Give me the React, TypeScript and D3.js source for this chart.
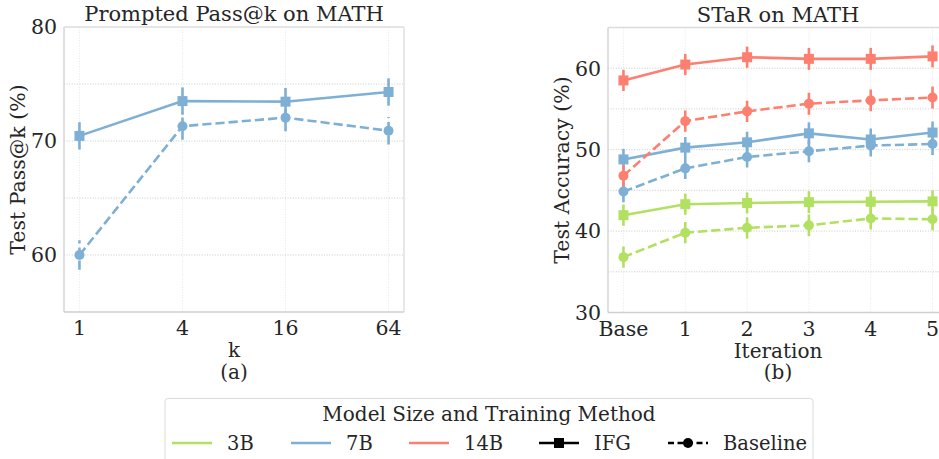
import React from "react";
import * as d3 from "d3";

// ---------- data ----------
const kLabels = ["1", "4", "16", "64"];
const passIFG = [70.45, 73.5, 73.45, 74.3];
const passIFGErr = [1.2, 1.2, 1.2, 1.2];
const passBase = [60.0, 71.3, 72.05, 70.9];
const passBaseErr = [1.3, 1.2, 1.2, 1.2];

const iterLabels = ["Base", "1", "2", "3", "4", "5"];
const star3IFG = [41.95, 43.3, 43.45, 43.55, 43.6, 43.65];
const star3Base = [36.8, 39.8, 40.4, 40.7, 41.55, 41.45];
const star7IFG = [48.8, 50.25, 50.9, 52.0, 51.25, 52.1];
const star7Base = [44.85, 47.7, 49.1, 49.8, 50.5, 50.7];
const star14IFG = [58.5, 60.45, 61.35, 61.15, 61.15, 61.45];
const star14Base = [46.8, 53.5, 54.7, 55.65, 56.05, 56.4];
const starErr = [1.3, 1.3, 1.3, 1.35, 1.35, 1.35];

const modelNames = ["3B", "7B", "14B"];
const modelColors = ["#b2e061", "#7eb0d5", "#fd7f6f"];
const methodNames = ["IFG", "Baseline"];

const FONT = "DejaVu Serif";
const TXT = "#262626";
const DASH = "9.2,4";
const FS = 20;

type Series = { values: number[]; err: number[]; color: string; dashed: boolean };

function Panel(props: {
  x0: number; y0: number; w: number; h: number;
  labels: string[]; yDomain: [number, number]; yTicks: number[]; yMinor: number[];
  pad: number; title: string; xLabel: string; sub: string; yLabel: string;
  series: Series[]; rightSpine: boolean;
}) {
  const { x0, y0, w, h, labels, yDomain, yTicks, yMinor, pad, title, xLabel, sub, yLabel, series } = props;
  const n = labels.length;
  const x = d3.scaleLinear().domain([-pad, n - 1 + pad]).range([x0, x0 + w]);
  const y = d3.scaleLinear().domain(yDomain).range([y0 + h, y0]);
  const line = d3.line<number>().x((_, i) => x(i)).y((v) => y(v));
  const sq = 10;
  return (
    <g>
      {/* grid */}
      {labels.map((_, i) => (
        <line key={"vg" + i} x1={x(i)} x2={x(i)} y1={y0} y2={y0 + h} stroke="#e2e2e2" strokeWidth={0.8} strokeDasharray="1,1.6" />
      ))}
      {[...yTicks, ...yMinor].filter((t) => t > yDomain[0] && t < yDomain[1]).map((t) => (
        <line key={"hg" + t} x1={x0} x2={x0 + w} y1={y(t)} y2={y(t)} stroke="#c4c4c4" strokeWidth={0.9} strokeDasharray="1,1.6" />
      ))}
      {/* spines */}
      <line x1={x0} x2={x0} y1={y0} y2={y0 + h} stroke="#cfcfcf" strokeWidth={1.3} />
      <line x1={x0} x2={x0 + w} y1={y0 + h} y2={y0 + h} stroke="#cfcfcf" strokeWidth={1.3} />
      <line x1={x0} x2={x0 + w} y1={y0} y2={y0} stroke="#dcdcdc" strokeWidth={1.3} />
      {props.rightSpine && <line x1={x0 + w} x2={x0 + w} y1={y0} y2={y0 + h} stroke="#dcdcdc" strokeWidth={1.3} />}
      {/* series */}
      {series.map((s, si) => (
        <g key={"s" + si}>
          <path d={line(s.values) || ""} fill="none" stroke={s.color} strokeWidth={2.6} strokeDasharray={s.dashed ? DASH : undefined} />
          {s.values.map((v, i) => (
            <line key={"e" + i} x1={x(i)} x2={x(i)} y1={y(v - s.err[i])} y2={y(v + s.err[i])} stroke={s.color} strokeWidth={2.6} strokeDasharray={s.dashed ? DASH : undefined} />
          ))}
          {s.values.map((v, i) =>
            s.dashed ? (
              <circle key={"m" + i} cx={x(i)} cy={y(v)} r={5} fill={s.color} />
            ) : (
              <rect key={"m" + i} x={x(i) - sq / 2} y={y(v) - sq / 2} width={sq} height={sq} fill={s.color} />
            )
          )}
        </g>
      ))}
      {/* ticks */}
      {yTicks.map((t) => (
        <text key={"yt" + t} x={x0 - 7} y={y(t)} dy="0.36em" textAnchor="end" fontSize={20.5} fill={TXT}>{t}</text>
      ))}
      {labels.map((l, i) => (
        <text key={"xt" + i} x={x(i)} y={y0 + h + 23} textAnchor="middle" fontSize={20.5} fill={TXT}>{l}</text>
      ))}
      <text x={x0 + w / 2} y={y0 - 6} textAnchor="middle" fontSize={21} fill={TXT}>{title}</text>
      <text x={x0 + w / 2} y={y0 + h + 45} textAnchor="middle" fontSize={FS} fill={TXT}>{xLabel}</text>
      <text x={x0 + w / 2} y={y0 + h + 66.5} textAnchor="middle" fontSize={FS} fill={TXT}>{sub}</text>
      <text transform={`translate(${x0 - 46},${y0 + h / 2}) rotate(-90)`} textAnchor="middle" dy="0.36em" fontSize={20.5} fill={TXT}>{yLabel}</text>
    </g>
  );
}

export default function App() {
  const leftSeries: Series[] = [
    { values: passIFG, err: passIFGErr, color: modelColors[1], dashed: false },
    { values: passBase, err: passBaseErr, color: modelColors[1], dashed: true },
  ];
  const starIFG = [star3IFG, star7IFG, star14IFG];
  const starBase = [star3Base, star7Base, star14Base];
  const rightSeries: Series[] = [];
  modelNames.forEach((_, mi) => {
    rightSeries.push({ values: starIFG[mi], err: starErr, color: modelColors[mi], dashed: false });
    rightSeries.push({ values: starBase[mi], err: starErr, color: modelColors[mi], dashed: true });
  });

  // legend layout
  const legY = 443;
  const entries: { label: string; color: string; kind: "line" | "ifg" | "base" }[] = [
    ...modelNames.map((m, i) => ({ label: m, color: modelColors[i], kind: "line" as const })),
    { label: methodNames[0], color: "#000", kind: "ifg" },
    { label: methodNames[1], color: "#000", kind: "base" },
  ];
  const entryX = [172, 291, 409, 539, 668];

  return (
    <svg width={939} height={459} style={{ position: "absolute", left: 0, top: 0, fontFamily: FONT }}>
      <rect width={939} height={459} fill="#fff" />
      <Panel x0={64} y0={27} w={340} h={285} labels={kLabels} yDomain={[55, 80]} yTicks={[60, 70, 80]} yMinor={[65, 75]}
        pad={0.15} title="Prompted Pass@k on MATH" xLabel="k" sub="(a)" yLabel="Test Pass@k (%)" series={leftSeries} rightSpine={true} />
      <Panel x0={608} y0={27.5} w={340} h={285} labels={iterLabels} yDomain={[30, 65]} yTicks={[30, 40, 50, 60]} yMinor={[35, 45, 55]}
        pad={0.25} title="STaR on MATH" xLabel="Iteration" sub="(b)" yLabel="Test Accuracy (%)" series={rightSeries} rightSpine={false} />
      {/* legend */}
      <rect x={165} y={398.5} width={648} height={70} rx={3} fill="#fff" stroke="#dadada" strokeWidth={1} />
      <text x={489} y={414} dy="0.36em" textAnchor="middle" fontSize={20} fill={TXT}>Model Size and Training Method</text>
      {entries.map((e, i) => {
        const lx = entryX[i];
        return (
          <g key={"leg" + i}>
            <line x1={lx} x2={lx + 40} y1={legY} y2={legY} stroke={e.color} strokeWidth={2.6} strokeDasharray={e.kind === "base" ? "6,3.5" : undefined} />
            {e.kind === "ifg" && <rect x={lx + 20 - 5} y={legY - 5} width={10} height={10} fill="#000" />}
            {e.kind === "base" && <circle cx={lx + 20} cy={legY} r={5} fill="#000" />}
            <text x={lx + 55} y={legY} dy="0.36em" fontSize={19.5} fill={TXT}>{e.label}</text>
          </g>
        );
      })}
    </svg>
  );
}
